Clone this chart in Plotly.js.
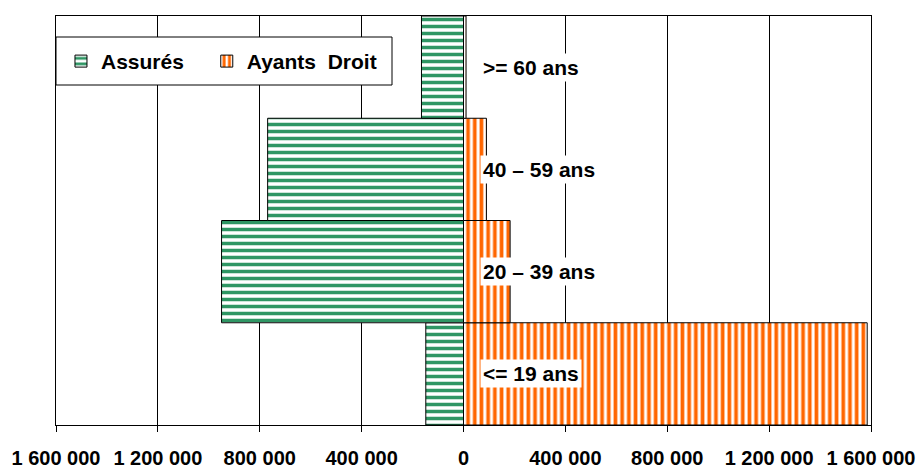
<!DOCTYPE html>
<html>
<head>
<meta charset="utf-8">
<script src="https://cdn.plot.ly/plotly-3.0.1.min.js"></script>
<style>html,body{margin:0;padding:0;background:#fff;}#chart{width:922px;height:470px;}</style>
</head>
<body>
<div id="chart"></div>
<script>
// Data (bottom to top)
const categories = ['<= 19 ans', '20 – 39 ans', '40 – 59 ans', '>= 60 ans'];
const assures = [148000, 950000, 769000, 165000];
const ayantsDroit = [1585000, 183000, 90000, 10000];
const tickValues = [-1600000, -1200000, -800000, -400000, 0, 400000, 800000, 1200000, 1600000];
const tickLabels = ['1 600 000', '1 200 000', '800 000', '400 000', '0', '400 000', '800 000', '1 200 000', '1 600 000'];

const FONT = 'Liberation Sans, Arial, sans-serif';

const traces = [
  {
    type: 'bar', orientation: 'h', name: 'Assurés', legend: 'legend',
    y: categories, x: assures.map(v => -v),
    marker: {
      color: 'white',
      line: {color: '#000', width: 1},
      pattern: {shape: '-', fgcolor: '#2f9664', bgcolor: 'white', size: 7, solidity: 0.5}
    },
    hoverinfo: 'skip'
  },
  {
    type: 'bar', orientation: 'h', name: 'Ayants  Droit', legend: 'legend2',
    y: categories, x: ayantsDroit,
    marker: {
      color: 'white',
      line: {color: '#000', width: 1},
      pattern: {shape: '|', fgcolor: '#ff6600', bgcolor: 'white', size: 6.7, solidity: 0.55}
    },
    hoverinfo: 'skip'
  }
];

const annotations = categories.map(c => ({
  x: 0, y: c, xref: 'x', yref: 'y',
  text: c, showarrow: false,
  xanchor: 'left', yanchor: 'middle', xshift: 16,
  bgcolor: 'white', borderpad: 2,
  font: {family: FONT, size: 21, color: '#000', weight: 'bold'}
}));

const legendBase = {
  orientation: 'h', xanchor: 'left', y: 0.939, yanchor: 'top',
  bgcolor: 'rgba(0,0,0,0)', borderwidth: 0,
  font: {family: FONT, size: 21, color: '#000', weight: 'bold'}
};

const layout = {
  width: 922, height: 470,
  margin: {l: 56, r: 51, t: 16, b: 45, pad: 0},
  paper_bgcolor: 'white', plot_bgcolor: 'white',
  barmode: 'relative', bargap: 0,
  showlegend: true,
  legend: Object.assign({}, legendBase, {x: 0.0061}),
  legend2: Object.assign({}, legendBase, {x: 0.185}),
  xaxis: {
    range: [-1600000, 1600000],
    tickvals: tickValues, ticktext: tickLabels,
    tickfont: {family: FONT, size: 20, color: '#000', weight: 'bold'},
    ticks: 'outside', ticklen: 6, tickcolor: '#000', tickwidth: 1,
    ticklabelstandoff: 9,
    showgrid: true, gridcolor: '#000', gridwidth: 1,
    zeroline: true, zerolinecolor: '#000', zerolinewidth: 1,
    showline: true, linecolor: '#000', linewidth: 1, mirror: true,
    fixedrange: true
  },
  yaxis: {
    type: 'category', categoryorder: 'array', categoryarray: categories,
    showticklabels: false, ticks: '', showgrid: false, zeroline: false,
    showline: true, linecolor: '#000', linewidth: 1, mirror: true,
    range: [-0.5, 3.5], fixedrange: true
  },
  shapes: [{
    type: 'rect', xref: 'paper', yref: 'paper',
    x0: 0, x1: (392 - 56) / 815, y0: (425 - 85) / 409, y1: (425 - 37) / 409,
    fillcolor: 'white', line: {color: '#000', width: 1}, layer: 'above'
  }],
  annotations: annotations
};

Plotly.newPlot('chart', traces, layout, {displayModeBar: false, staticPlot: true});
</script>
</body>
</html>
